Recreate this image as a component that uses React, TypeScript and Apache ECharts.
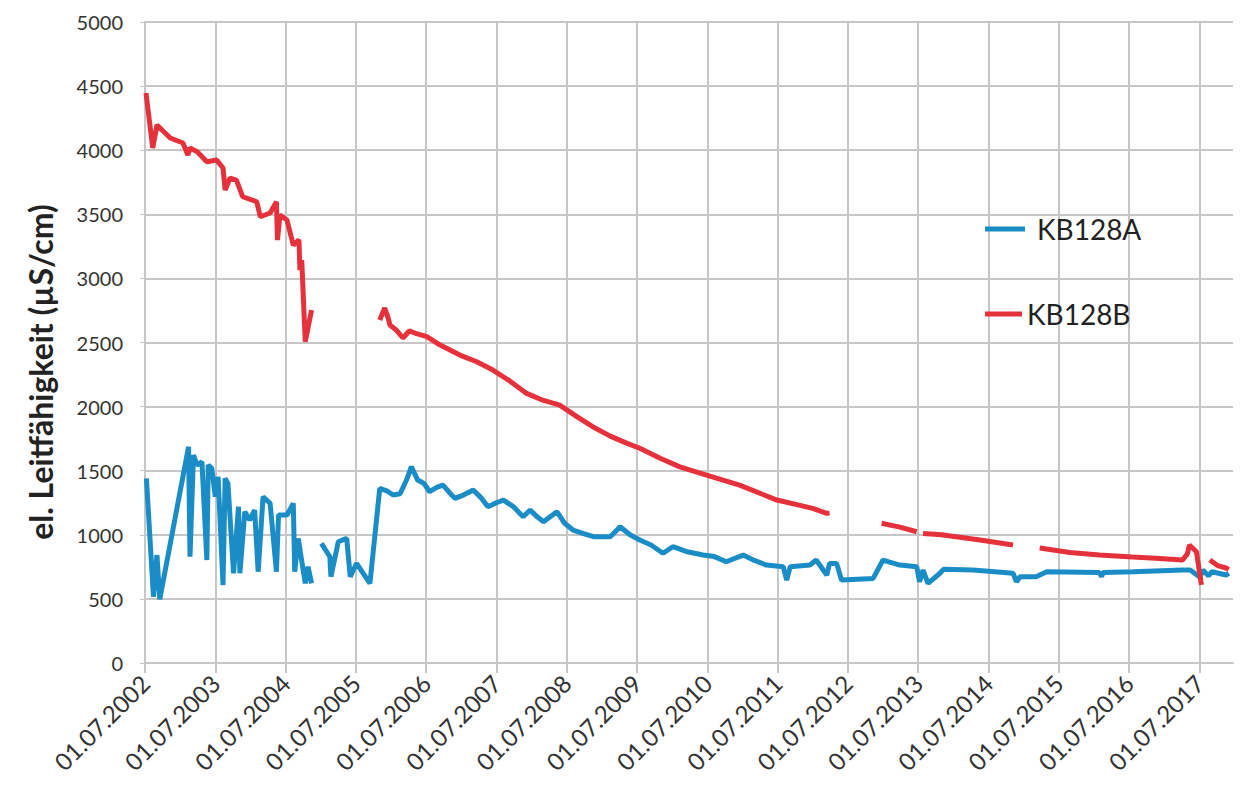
import React, { useEffect, useRef } from "react";
import * as echarts from "echarts";

// x tick years (01.07. of each year)
const xYears = [2002, 2003, 2004, 2005, 2006, 2007, 2008, 2009, 2010, 2011, 2012, 2013, 2014, 2015, 2016, 2017];

// KB128A (blue) – decimal calendar years and values (µS/cm); null = gap
const aTime = [
  2002.52, 2002.62, 2002.67, 2002.71, 2003.12, 2003.14, 2003.19, 2003.24, 2003.31, 2003.38,
  2003.40, 2003.45, 2003.50, 2003.54, 2003.61, 2003.64, 2003.68, 2003.76, 2003.83, 2003.85,
  2003.92, 2003.99, 2004.06, 2004.11, 2004.18, 2004.28, 2004.37, 2004.40, 2004.52, 2004.61,
  2004.63, 2004.68, 2004.78, 2004.82, 2004.87, 2004.94,
  2005.01, 2005.13, 2005.145, 2005.25, 2005.37, 2005.42, 2005.51, 2005.70, 2005.84, 2005.95,
  2006.03, 2006.13, 2006.22, 2006.29, 2006.38, 2006.47, 2006.55, 2006.65, 2006.74, 2006.83,
  2006.91, 2007.03, 2007.17, 2007.28, 2007.38, 2007.50, 2007.60, 2007.74, 2007.88, 2007.98,
  2008.08, 2008.17, 2008.36, 2008.47, 2008.59, 2008.74, 2008.88, 2009.12, 2009.26, 2009.40,
  2009.54, 2009.70, 2009.87, 2010.01, 2010.20, 2010.44, 2010.60, 2010.77, 2011.01, 2011.17,
  2011.34, 2011.58, 2011.63, 2011.68, 2011.96, 2012.05,
  2012.20, 2012.24, 2012.34, 2012.41, 2012.86, 2013.00, 2013.24, 2013.48, 2013.52, 2013.57,
  2013.64, 2013.81, 2013.86, 2014.28, 2014.85, 2014.90, 2014.95, 2015.18, 2015.33, 2016.08,
  2016.11, 2016.13, 2016.56, 2017.27, 2017.37, 2017.51, 2017.55, 2017.63, 2017.68, 2017.88, 2017.92
];
const aValue = [
  1440, 517, 842, 497, 1687, 829, 1622, 1544, 1570, 803,
  1544, 1518, 1297, 1453, 608, 1440, 1401, 700, 1219, 700,
  1180, 1115, 1193, 712, 1297, 1245, 712, 1154, 1154, 1245,
  712, 972, 621, 751, 621, null,
  933, 829, 673, 946, 972, 673, 777, 621, 1362, 1340,
  1310, 1320, 1427, 1531, 1427, 1400, 1336, 1370, 1388, 1330,
  1284, 1310, 1349, 1290, 1219, 1250, 1271, 1220, 1141, 1193,
  1140, 1102, 1180, 1090, 1037, 1010, 985, 985, 1063, 1000,
  959, 920, 856, 907, 870, 842, 830, 790, 842, 800,
  764, 751, 647, 751, 764, 803,
  686, 777, 777, 647, 660, 803, 764, 751, 634, 725,
  621, 700, 731, 725, 700, 634, 673, 673, 712, 705,
  673, 705, 712, 725, 725, 670, 725, 680, 712, 686, 700
];

// KB128B (red)
const bTime = [
  2002.514, 2002.61, 2002.67, 2002.86, 2003.04, 2003.11, 2003.14, 2003.24, 2003.38, 2003.52,
  2003.61, 2003.64, 2003.71, 2003.80, 2003.89, 2004.09, 2004.14, 2004.28, 2004.37, 2004.385,
  2004.42, 2004.52, 2004.61, 2004.69, 2004.705, 2004.73, 2004.78, 2004.87, 2005.3,
  2005.84, 2005.91, 2005.96, 2005.985, 2006.07, 2006.17, 2006.26, 2006.34, 2006.51, 2006.70,
  2006.98, 2007.22, 2007.45, 2007.69, 2007.93, 2008.16, 2008.40, 2008.65, 2008.87, 2009.12,
  2009.36, 2009.54, 2009.83, 2010.11, 2010.49, 2010.96, 2011.49, 2011.82, 2012.00, 2012.20,
  2012.24, 2012.6,
  2012.98, 2013.24, 2013.48, 2013.52,
  2013.57, 2013.83, 2014.38, 2014.85, 2015.0,
  2015.23, 2015.66, 2016.08, 2016.55, 2016.94, 2017.26, 2017.33, 2017.36, 2017.46, 2017.53, 2017.58,
  2017.65, 2017.76, 2017.88, 2017.92
];
const bValue = [
  4446, 4017, 4196, 4095, 4056, 3962, 4017, 3989, 3910, 3923,
  3861, 3689, 3783, 3767, 3637, 3598, 3481, 3510, 3598, 3299,
  3494, 3455, 3260, 3300, 3065, 3143, 2506, 2753, null,
  2675, 2769, 2690, 2636, 2600, 2535, 2590, 2574, 2545, 2480,
  2402, 2350, 2285, 2200, 2103, 2050, 2012, 1920, 1843, 1770,
  1713, 1675, 1597, 1530, 1466, 1388, 1271, 1230, 1206, 1167,
  1170, null,
  1090, 1060, 1024, null,
  1011, 1000, 960, 920, null,
  897, 862, 842, 827, 815, 803, 850, 920, 868, 610, null,
  803, 760, 741, 730
];

const Y_MIN = 0;
const Y_MAX = 5000;
const Y_STEP = 500;

const toPairs = (times: number[], values: (number | null)[]) =>
  times.map((t, i) => [t - 0.5, values[i] === null ? "-" : values[i]]);

const GRID = "#c6c6c6";
const FONT = "Lato";
const BLUE = "#1b8dc6";
const RED = "#e5313b";

export default function App() {
  const ref = useRef<HTMLDivElement>(null);
  useEffect(() => {
    if (!ref.current) return;
    const chart = echarts.init(ref.current, undefined, { renderer: "svg" });
    const legendBase = {
      orient: "vertical",
      left: 985,
      icon: "rect",
      itemHeight: 5,
      padding: 0,
    };
    chart.setOption({
      animation: false,
      backgroundColor: "#ffffff",
      grid: { left: 145, right: 9, top: 22, bottom: 133, containLabel: false },
      legend: [
        {
          ...legendBase,
          data: ["KB128A"],
          top: 215,
          itemWidth: 40,
          textStyle: { fontSize: 28, color: "#222", fontFamily: FONT, padding: [0, 0, 0, 7] },
        },
        {
          ...legendBase,
          data: ["KB128B"],
          top: 300,
          itemWidth: 37,
          textStyle: { fontSize: 28, color: "#222", fontFamily: FONT, padding: [0, 0, 0, 0] },
        },
      ],
      graphic: [
        {
          type: "text",
          x: 40,
          y: 372,
          rotation: Math.PI / 2,
          style: {
            text: "el. Leitfähigkeit (µS/cm)",
            fontSize: 32,
            fontWeight: "bold",
            fontFamily: FONT,
            fill: "#222",
            align: "center",
            verticalAlign: "middle",
          },
        },
      ],
      xAxis: {
        type: "value",
        min: 2002,
        max: 2017.48,
        interval: 1,
        axisLine: { show: true, lineStyle: { color: GRID, width: 2 } },
        axisTick: { show: true, length: 10, customValues: xYears, lineStyle: { color: GRID, width: 2 } },
        axisLabel: {
          customValues: xYears,
          rotate: 45,
          margin: 16,
          fontSize: 24,
          color: "#333",
          fontFamily: FONT,
          formatter: (v: number) => "01.07." + Math.round(v),
        },
        splitLine: { show: true, lineStyle: { color: GRID, width: 2 } },
      },
      yAxis: {
        type: "value",
        min: Y_MIN,
        max: Y_MAX,
        interval: Y_STEP,
        axisLine: { show: true, lineStyle: { color: GRID, width: 2 } },
        axisTick: { show: true, length: 5, lineStyle: { color: GRID, width: 1 } },
        axisLabel: {
          fontSize: 20,
          color: "#333",
          fontFamily: FONT,
          margin: 22,
          formatter: (v: number) => String(v),
        },
        splitLine: { show: true, lineStyle: { color: GRID, width: 2 } },
      },
      series: [
        {
          name: "KB128A",
          type: "line",
          data: toPairs(aTime, aValue),
          showSymbol: false,
          connectNulls: false,
          color: BLUE,
          lineStyle: { width: 5, color: BLUE },
        },
        {
          name: "KB128B",
          type: "line",
          data: toPairs(bTime, bValue),
          showSymbol: false,
          connectNulls: false,
          color: RED,
          lineStyle: { width: 5, color: RED },
        },
      ],
    });
    return () => chart.dispose();
  }, []);
  return (
    <div
      ref={ref}
      style={{ position: "absolute", left: 0, top: 0, width: 1242, height: 796, background: "#fff" }}
    />
  );
}
